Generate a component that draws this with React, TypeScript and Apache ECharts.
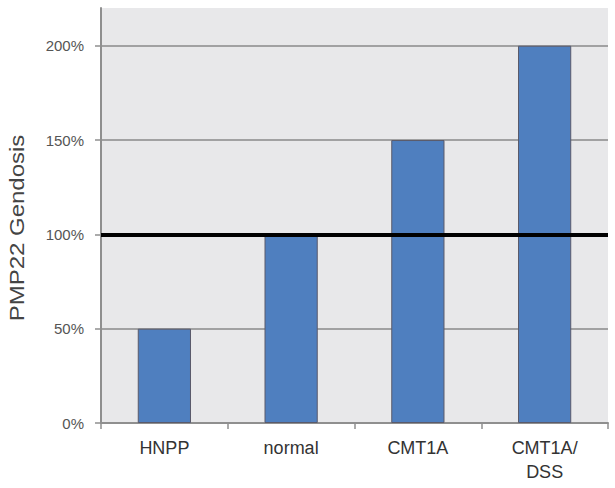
import React, { useEffect, useRef } from "react";
import * as echarts from "echarts";

const categories = ["HNPP", "normal", "CMT1A", "CMT1A/\nDSS"];
const gendosis = [50, 100, 150, 200];
const referenceLevel = 100;
const yMax = 220;
const yInterval = 50;

export default function App() {
  const ref = useRef<HTMLDivElement>(null);
  useEffect(() => {
    if (!ref.current) return;
    const chart = echarts.init(ref.current, undefined, { renderer: "svg" });
    chart.setOption({
      animation: false,
      backgroundColor: "#ffffff",
      grid: {
        left: 101,
        right: 7,
        top: 8,
        bottom: 65,
        show: true,
        backgroundColor: "#e8e8ea",
        borderWidth: 0,
      },
      graphic: [
        {
          type: "text",
          x: 17,
          y: 228,
          rotation: Math.PI / 2,
          scaleX: 1.2,
          style: {
            text: "PMP22 Gendosis",
            font: '20px "Liberation Sans", Arial, sans-serif',
            fill: "#444",
            align: "center",
            verticalAlign: "middle",
          },
        },
      ],
      xAxis: {
        type: "category",
        data: categories,
        axisLine: { lineStyle: { color: "#8f8f8f", width: 2 } },
        axisTick: { show: true, length: 6, lineStyle: { color: "#8f8f8f", width: 1.5 } },
        axisLabel: {
          margin: 13,
          fontSize: 18,
          lineHeight: 24,
          color: "#333",
          fontFamily: '"Liberation Sans", Arial, sans-serif',
        },
      },
      yAxis: {
        type: "value",
        min: 0,
        max: yMax,
        interval: yInterval,
        axisLine: { show: true, lineStyle: { color: "#8f8f8f", width: 2 } },
        axisTick: { show: true, length: 6, lineStyle: { color: "#8f8f8f", width: 1.5 } },
        axisLabel: {
          margin: 17,
          fontSize: 15,
          color: "#555",
          showMaxLabel: false,
          fontFamily: '"Liberation Sans", Arial, sans-serif',
          formatter: (v: number) => v + "%",
        },
        splitLine: {
          show: true,
          showMaxLine: false,
          lineStyle: { color: "#8a8a8a", width: 1.5 },
        },
      },
      series: [
        {
          type: "bar",
          data: gendosis,
          barWidth: "42%",
          itemStyle: { color: "#4f7fbf", borderColor: "#5a5a6a", borderWidth: 1 },
          markLine: {
            silent: true,
            symbol: "none",
            label: { show: false },
            lineStyle: { color: "#000", width: 4, type: "solid" },
            data: [{ yAxis: referenceLevel }],
          },
        },
      ],
    });
    return () => chart.dispose();
  }, []);
  return (
    <div
      ref={ref}
      style={{ position: "fixed", left: 0, top: 0, width: 615, height: 488 }}
    />
  );
}
